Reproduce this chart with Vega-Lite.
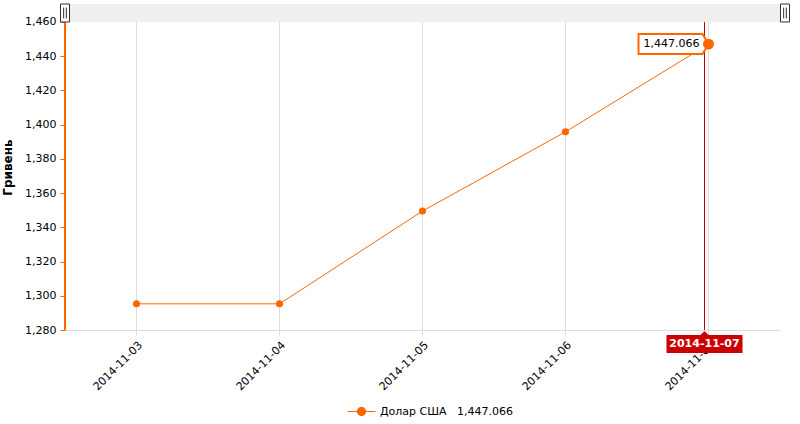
{
  "$schema": "https://vega.github.io/schema/vega-lite/v6.json",
  "width": 715,
  "height": 326,
  "autosize": {"type": "none"},
  "padding": {"left": 65, "top": 4, "right": 20, "bottom": 94},
  "background": "white",
  "config": {"view": {"stroke": null}, "font": "DejaVu Sans"},
  "datasets": {
    "rates": [
      {"date": "2014-11-03", "rate": 1295.3, "series": "Долар США"},
      {"date": "2014-11-04", "rate": 1295.3, "series": "Долар США"},
      {"date": "2014-11-05", "rate": 1349.5, "series": "Долар США"},
      {"date": "2014-11-06", "rate": 1395.8, "series": "Долар США"},
      {"date": "2014-11-07", "rate": 1447.066, "series": "Долар США"}
    ],
    "one": [{"el": "decor"}]
  },
  "layer": [
    {
      "data": {"name": "rates"},
      "mark": {"type": "line", "strokeWidth": 1, "color": "#FF6600"},
      "encoding": {
        "x": {"field": "date", "type": "ordinal", "bandPosition": 0.5,
          "scale": {"type": "band", "paddingInner": 0, "paddingOuter": 0},
          "axis": {"title": null, "labelAngle": -45, "labelFontSize": 11, "labelColor": "#000",
            "domainColor": "#dddddd", "tickColor": "#dddddd", "gridColor": "#dddddd", "grid": true,
            "bandPosition": 0.5, "tickSize": 5, "labelPadding": 4}},
        "y": {"field": "rate", "type": "quantitative",
          "scale": {"domain": [1280, 1470.5], "nice": false, "zero": false},
          "axis": {"title": "Гривень", "titleFontSize": 12, "titleFontWeight": "bold", "titleColor": "#000",
            "titlePadding": 10, "values": [1280, 1300, 1320, 1340, 1360, 1380, 1400, 1420, 1440, 1460],
            "tickCount": 30,
            "format": ",.0f", "grid": false, "domain": false, "labelOverlap": false, "labelBound": false,
            "tickColor": "#FF6600", "tickSize": 5, "labelFontSize": 11, "labelColor": "#000", "labelPadding": 4}},
        "color": {"field": "series", "type": "nominal", "scale": {"range": ["#FF6600"]},
          "legend": {"title": null, "orient": "none", "legendX": 282, "legendY": 393,
            "symbolType": "M-1,0H1M-0.3,0A0.3,0.3 0 1,1 0.3,0A0.3,0.3 0 1,1 -0.3,0Z",
            "symbolSize": 784, "symbolStrokeWidth": 1, "symbolFillColor": "#FF6600", "symbolStrokeColor": "#FF6600",
            "labelFontSize": 11, "labelColor": "#000",
            "labelExpr": "datum.label + '\u00a0\u00a0\u00a01,447.066'"}}
      }
    },
    {
      "data": {"name": "one"},
      "mark": {"type": "rect", "color": "#efefef"},
      "encoding": {"y": {"datum": 1460, "type": "quantitative"}, "y2": {"datum": 1470.5}}
    },
    {
      "data": {"name": "one"},
      "mark": {"type": "rule", "color": "#FF6600", "strokeWidth": 2},
      "encoding": {
        "x": {"datum": "2014-11-03", "type": "ordinal", "bandPosition": 0},
        "y": {"datum": 1280, "type": "quantitative"}, "y2": {"datum": 1460}
      }
    },
    {
      "data": {"name": "rates"},
      "mark": {"type": "point", "filled": true, "size": 50, "color": "#FF6600", "opacity": 1},
      "encoding": {
        "x": {"field": "date", "type": "ordinal", "bandPosition": 0.5},
        "y": {"field": "rate", "type": "quantitative"}
      }
    },
    {
      "data": {"name": "one"},
      "mark": {"type": "rule", "color": "#CC0000", "strokeWidth": 1, "xOffset": -4},
      "encoding": {
        "x": {"datum": "2014-11-07", "type": "ordinal", "bandPosition": 0.5},
        "y": {"datum": 1460, "type": "quantitative"}, "y2": {"datum": 1280}
      }
    },
    {
      "data": {"name": "rates"},
      "transform": [{"filter": "datum.date == '2014-11-07'"}],
      "mark": {"type": "point", "shape": "M-3.5,-0.5H-0.3L0,0L-0.3,0.5H-3.5Z", "size": 1600,
        "filled": true, "fill": "white", "stroke": "#FF6600", "strokeWidth": 2, "opacity": 1},
      "encoding": {
        "x": {"field": "date", "type": "ordinal", "bandPosition": 0.5},
        "y": {"field": "rate", "type": "quantitative"}
      }
    },
    {
      "data": {"name": "rates"},
      "transform": [{"filter": "datum.date == '2014-11-07'"}],
      "mark": {"type": "text", "dx": -37, "align": "center", "baseline": "middle", "fontSize": 11, "color": "#000"},
      "encoding": {
        "x": {"field": "date", "type": "ordinal", "bandPosition": 0.5},
        "y": {"field": "rate", "type": "quantitative"},
        "text": {"field": "rate", "type": "quantitative", "format": ",.3f"}
      }
    },
    {
      "data": {"name": "rates"},
      "transform": [{"filter": "datum.date == '2014-11-07'"}],
      "mark": {"type": "point", "filled": true, "size": 120, "color": "#FF6600", "opacity": 1},
      "encoding": {
        "x": {"field": "date", "type": "ordinal", "bandPosition": 0.5},
        "y": {"field": "rate", "type": "quantitative"}
      }
    },
    {
      "data": {"name": "one"},
      "mark": {"type": "point", "shape": "M-1.9,0.25H-0.2L0,0.05L0.2,0.25H1.9V1.15H-1.9Z", "size": 1600,
        "filled": true, "fill": "#CC0000", "opacity": 1, "xOffset": -4},
      "encoding": {
        "x": {"datum": "2014-11-07", "type": "ordinal", "bandPosition": 0.5},
        "y": {"datum": 1280, "type": "quantitative"}
      }
    },
    {
      "data": {"name": "one"},
      "mark": {"type": "text", "text": "2014-11-07", "color": "white", "fontWeight": "bold", "fontSize": 11,
        "align": "center", "baseline": "middle", "dy": 14, "xOffset": -4},
      "encoding": {
        "x": {"datum": "2014-11-07", "type": "ordinal", "bandPosition": 0.5},
        "y": {"datum": 1280, "type": "quantitative"}
      }
    },
    {
      "data": {"name": "one"},
      "mark": {"type": "point", "shape": "M-0.5,-1H0.5V1H-0.5Z M-0.15,-0.6V0.6 M0.15,-0.6V0.6", "size": 324,
        "filled": true, "fill": "white", "stroke": "#333", "strokeWidth": 1, "opacity": 1},
      "encoding": {
        "x": {"datum": "2014-11-03", "type": "ordinal", "bandPosition": 0},
        "y": {"datum": 1465.25, "type": "quantitative"}
      }
    },
    {
      "data": {"name": "one"},
      "mark": {"type": "point", "shape": "M-0.5,-1H0.5V1H-0.5Z M-0.15,-0.6V0.6 M0.15,-0.6V0.6", "size": 324,
        "filled": true, "fill": "white", "stroke": "#333", "strokeWidth": 1, "opacity": 1, "xOffset": 5},
      "encoding": {
        "x": {"datum": "2014-11-07", "type": "ordinal", "bandPosition": 1},
        "y": {"datum": 1465.25, "type": "quantitative"}
      }
    }
  ]
}
